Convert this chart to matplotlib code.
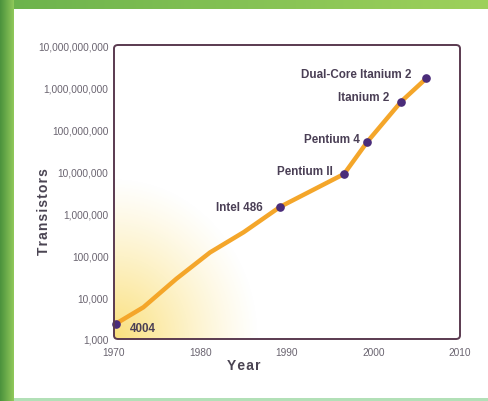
import numpy as np
import matplotlib
matplotlib.use("Agg")
import matplotlib.pyplot as plt
from matplotlib.patches import FancyBboxPatch
from matplotlib.ticker import FixedLocator, NullLocator

# ---- data ----
curve_years = [1970.2, 1973.4, 1977.2, 1981.1, 1985.0, 1989.2, 1996.6, 1999.3, 2003.2, 2006.1]
curve_values = [2300, 5700, 27000, 115000, 350000, 1400000, 8500000, 50000000, 450000000, 1600000000]

chip_names = ["4004", "Intel 486", "Pentium II", "Pentium 4", "Itanium 2", "Dual-Core Itanium 2"]
chip_years = [1970.2, 1989.2, 1996.6, 1999.3, 2003.2, 2006.1]
chip_values = [2300, 1400000, 8500000, 50000000, 450000000, 1600000000]

x_ticks = [1970, 1980, 1990, 2000, 2010]
y_ticks = [1e3, 1e4, 1e5, 1e6, 1e7, 1e8, 1e9, 1e10]
y_tick_labels = ["1,000", "10,000", "100,000", "1,000,000", "10,000,000",
                 "100,000,000", "1,000,000,000", "10,000,000,000"]

FAM = ["Liberation Sans", "DejaVu Sans"]


def spaced(s):
    return "\u200a".join(s)


W, H = 488, 402
fig = plt.figure(figsize=(W / 100, H / 100), dpi=100)

# ---- background frame (green border, white panel) ----
bg = np.ones((H, W, 3))
xx = np.arange(W)[None, :]
yy = np.arange(H)[:, None]
green_dark = np.array([0.30, 0.58, 0.24])
green_light = np.array([0.58, 0.80, 0.36])
t = np.clip(xx / 14.0, 0, 1)[..., None]
left = np.broadcast_to(green_dark * (1 - t) + green_light * t, (H, W, 3))
mask_left = np.broadcast_to(xx < 14, (H, W))
bg[mask_left] = left[mask_left]
t2 = np.clip(xx / W, 0, 1)[..., None]
top_col = np.broadcast_to(np.array([0.42, 0.70, 0.30]) * (1 - t2)
                          + np.array([0.62, 0.82, 0.36]) * t2, (H, W, 3))
mask_top = np.broadcast_to((yy < 10) & (xx >= 14), (H, W))
bg[mask_top] = top_col[mask_top]
mask_bot = np.broadcast_to((yy >= 399) & (xx >= 14), (H, W))
bg[mask_bot] = np.array([0.70, 0.88, 0.72])

bgax = fig.add_axes([0, 0, 1, 1], zorder=0)
bgax.imshow(bg, aspect="auto", extent=[0, 1, 0, 1], interpolation="nearest")
bgax.set_axis_off()

# ---- main axes ----
ax = fig.add_axes([114 / W, 1 - 340 / H, 346 / W, 294 / H], zorder=1)
ax.set_facecolor("none")
ax.set_yscale("log")

# yellow glow in bottom-left corner
n = 300
gx, gy = np.meshgrid(np.linspace(0, 1, n), np.linspace(0, 1, n))
r = np.sqrt((gx / 0.42) ** 2 + (gy / 0.55) ** 2)
alpha = np.clip(1 - r, 0, 1) ** 1.2 * 0.8
glow = np.zeros((n, n, 4))
glow[..., 0] = 0.98
glow[..., 1] = 0.85
glow[..., 2] = 0.36
glow[..., 3] = alpha
ax.imshow(glow, origin="lower", extent=[0, 1, 0, 1], transform=ax.transAxes,
          aspect="auto", zorder=0, interpolation="bilinear")
ax.set_xlim(1970, 2010)
ax.set_ylim(1e3, 1e10)

ax.plot(curve_years, curve_values, color="#f4a62a", lw=3.2,
        solid_joinstyle="round", solid_capstyle="round", zorder=2, clip_on=False)
ax.plot(chip_years, chip_values, "o", color="#4a2c7a", ms=5.2, zorder=3, clip_on=False)

offsets = [(14, -4), (-17, 0), (-11, 3), (-8, 3), (-12, 5), (-15, 4)]
aligns = ["left", "right", "right", "right", "right", "right"]
for name, xv, yv, off, ha in zip(chip_names, chip_years, chip_values, offsets, aligns):
    ax.annotate(name, (xv, yv), xytext=off, textcoords="offset pixels",
                ha=ha, va="center", fontsize=8.4, fontweight="bold",
                color="#4a3f55", family=FAM, zorder=4)

# ticks
ax.xaxis.set_major_locator(FixedLocator(x_ticks))
ax.set_xticklabels([str(v) for v in x_ticks])
ax.yaxis.set_major_locator(FixedLocator(y_ticks))
ax.yaxis.set_minor_locator(NullLocator())
ax.set_yticklabels(y_tick_labels)
ax.tick_params(axis="both", length=0, labelsize=7.3, labelcolor="#6a6470")
ax.tick_params(axis="y", pad=4)
ax.tick_params(axis="x", pad=6)
for lab in ax.get_xticklabels() + ax.get_yticklabels():
    lab.set_family(FAM)

ax.set_xlabel(spaced("Year"), fontsize=10, fontweight="bold", color="#4a4452", family=FAM)
ax.set_ylabel(spaced("Transistors"), fontsize=10, fontweight="bold", color="#4a4452", family=FAM)
ax.xaxis.set_label_coords((244 - 114) / 346, -(359 - 340) / 294)
ax.yaxis.set_label_coords((51 - 114) / 346, (340 - 212) / 294)

# frame with rounded corners
for s in ax.spines.values():
    s.set_visible(False)
frame = FancyBboxPatch((0, 0), 1, 1, boxstyle="round,pad=0,rounding_size=0.012",
                       transform=ax.transAxes, fill=False, ec="#5a3a50", lw=1.4,
                       clip_on=False, zorder=5)
ax.add_patch(frame)

fig.savefig("out.png", dpi=100)
